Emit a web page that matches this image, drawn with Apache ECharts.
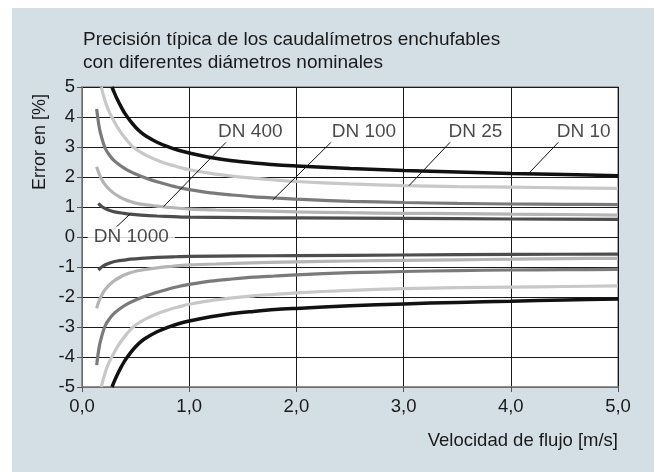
<!DOCTYPE html>
<html><head><meta charset="utf-8">
<script src="https://cdn.jsdelivr.net/npm/echarts@6/dist/echarts.min.js"></script>
<style>html,body{margin:0;padding:0;background:#fff}#c{width:654px;height:472px}</style>
</head><body><div id="c"></div>
<script>
// ---- data ----
var titleLines = ['Precisión típica de los caudalímetros enchufables', 'con diferentes diámetros nominales'];
var xName = 'Velocidad de flujo [m/s]';
var yName = 'Error en [%]';
var xTicks = [0, 1, 2, 3, 4, 5];
var yTicks = [-5, -4, -3, -2, -1, 0, 1, 2, 3, 4, 5];

var vDN10 = [0.28, 0.3, 0.33, 0.36, 0.4, 0.45, 0.5, 0.55, 0.6, 0.7, 0.8, 0.9, 1.0, 1.2, 1.4, 1.6, 1.8, 2.0, 2.5, 3, 3.5, 4, 4.5, 5];
var eDN10Pos = [5.0, 4.82, 4.58, 4.37, 4.12, 3.87, 3.66, 3.49, 3.36, 3.16, 3.01, 2.89, 2.8, 2.65, 2.54, 2.47, 2.41, 2.37, 2.28, 2.22, 2.17, 2.12, 2.08, 2.04];
var eDN10Neg = [-5.0, -4.82, -4.58, -4.37, -4.12, -3.87, -3.66, -3.49, -3.36, -3.16, -3.01, -2.89, -2.8, -2.66, -2.55, -2.48, -2.42, -2.38, -2.29, -2.23, -2.18, -2.14, -2.1, -2.07];

var vDN25 = [0.18, 0.2, 0.23, 0.26, 0.29, 0.33, 0.37, 0.42, 0.48, 0.55, 0.6, 0.7, 0.8, 0.9, 1.0, 1.2, 1.4, 1.6, 1.8, 2.0, 2.5, 3, 3.5, 4, 4.5, 5];
var eDN25Pos = [5.0, 4.72, 4.38, 4.12, 3.92, 3.66, 3.45, 3.22, 2.99, 2.82, 2.72, 2.56, 2.43, 2.33, 2.24, 2.12, 2.03, 1.96, 1.9, 1.85, 1.77, 1.71, 1.68, 1.66, 1.64, 1.62];
var eDN25Neg = [-5.0, -4.72, -4.38, -4.12, -3.92, -3.66, -3.45, -3.22, -2.99, -2.82, -2.72, -2.56, -2.43, -2.33, -2.24, -2.12, -2.03, -1.96, -1.91, -1.86, -1.78, -1.72, -1.69, -1.67, -1.65, -1.63];

var vDN100 = [0.137, 0.15, 0.165, 0.18, 0.2, 0.22, 0.25, 0.29, 0.35, 0.42, 0.5, 0.6, 0.7, 0.8, 0.9, 1.0, 1.2, 1.4, 1.6, 1.8, 2.0, 2.5, 3, 3.5, 4, 4.5, 5];
var eDN100Pos = [4.27, 3.9, 3.58, 3.36, 3.12, 2.93, 2.76, 2.58, 2.4, 2.24, 2.1, 1.96, 1.84, 1.74, 1.65, 1.58, 1.47, 1.4, 1.34, 1.3, 1.26, 1.19, 1.15, 1.12, 1.1, 1.09, 1.08];
var eDN100Neg = [-4.27, -3.9, -3.58, -3.36, -3.12, -2.93, -2.76, -2.58, -2.4, -2.24, -2.1, -1.96, -1.84, -1.74, -1.65, -1.58, -1.47, -1.4, -1.34, -1.3, -1.26, -1.19, -1.15, -1.12, -1.1, -1.09, -1.08];

var vDN400 = [0.137, 0.15, 0.17, 0.19, 0.21, 0.23, 0.26, 0.3, 0.35, 0.4, 0.45, 0.5, 0.6, 0.7, 0.8, 1.0, 1.25, 1.5, 2, 2.5, 3, 3.5, 4, 4.5, 5];
var eDN400Pos = [2.34, 2.2, 2.02, 1.88, 1.77, 1.68, 1.57, 1.45, 1.34, 1.25, 1.18, 1.13, 1.07, 1.03, 0.99, 0.93, 0.9, 0.88, 0.84, 0.81, 0.79, 0.78, 0.76, 0.75, 0.73];
var eDN400Neg = [-2.38, -2.22, -2.04, -1.9, -1.78, -1.69, -1.58, -1.46, -1.35, -1.26, -1.19, -1.14, -1.08, -1.03, -0.99, -0.93, -0.9, -0.87, -0.83, -0.8, -0.78, -0.76, -0.74, -0.72, -0.71];

var vDN1000 = [0.152, 0.17, 0.2, 0.24, 0.28, 0.33, 0.39, 0.45, 0.55, 0.7, 0.85, 1.0, 1.5, 2, 3, 4, 5];
var eDN1000Pos = [1.12, 1.06, 0.98, 0.91, 0.86, 0.82, 0.79, 0.76, 0.73, 0.7, 0.68, 0.66, 0.645, 0.635, 0.62, 0.6, 0.59];
var eDN1000Neg = [-1.1, -1.04, -0.96, -0.89, -0.84, -0.8, -0.77, -0.74, -0.71, -0.68, -0.66, -0.645, -0.63, -0.62, -0.6, -0.58, -0.57];

var seriesNames = ['DN 10', 'DN 25', 'DN 100', 'DN 400', 'DN 1000'];
var seriesColors = ['#111111', '#c8c8c8', '#7a7a7a', '#b5b5b5', '#4d4d4d'];

// label anchors [v, error] and leader lines [[v1,e1],[v2,e2]]
var labelNames = ['DN 400', 'DN 100', 'DN 25', 'DN 10', 'DN 1000'];
var labelPos = [[1.57, 3.5], [2.63, 3.5], [3.67, 3.5], [4.68, 3.5], [0.46, 0]];
var leaders = [
  [[1.35, 3.18], [0.76, 1.01]],
  [[2.33, 3.18], [1.78, 1.24]],
  [[3.44, 3.18], [3.05, 1.71]],
  [[4.45, 3.18], [4.17, 2.13]],
  [[0.29, 0.23], [0.45, 0.77]]
];

// ---- chart ----
var FONT = 'Liberation Sans';
function pairs(v, e) { return v.map(function (x, i) { return [x, e[i]]; }); }
var curveSets = [
  [vDN10, eDN10Pos, eDN10Neg],
  [vDN25, eDN25Pos, eDN25Neg],
  [vDN100, eDN100Pos, eDN100Neg],
  [vDN400, eDN400Pos, eDN400Neg],
  [vDN1000, eDN1000Pos, eDN1000Neg]
];
var series = [];
[3, 1, 2, 4, 0].forEach(function (k) {
  var s = curveSets[k];
  [s[1], s[2]].forEach(function (e, j) {
    series.push({
      name: seriesNames[k] + (j ? ' -' : ' +'), type: 'line', data: pairs(s[0], e),
      showSymbol: false, symbol: 'none', smooth: 0.3,
      lineStyle: { color: seriesColors[k], width: k === 0 ? 3.5 : 3.2 },
      silent: true, z: 3, clip: true
    });
  });
});
leaders.forEach(function (l) {
  series.push({ type: 'line', data: l, showSymbol: false, symbol: 'none',
    lineStyle: { color: '#111', width: 1 }, silent: true, z: 4 });
});
series.push({
  type: 'scatter', symbolSize: 0, z: 5, silent: true,
  data: labelNames.map(function (n, i) { return { name: n, value: labelPos[i] }; }),
  label: { show: true, position: 'inside', formatter: '{b}', color: '#1a1a1a',
    fontFamily: FONT, fontSize: 19, backgroundColor: '#fff', padding: [1, 6, 1, 6] }
});

var chart = echarts.init(document.getElementById('c'), null, { renderer: 'canvas' });
chart.setOption({
  backgroundColor: '#ffffff',
  animation: false,
  graphic: [
    { type: 'rect', z: -100, silent: true, shape: { x: 12, y: 8, width: 642, height: 464 }, style: { fill: '#d4dee5' } },
    { type: 'text', z: 10, left: 83, top: 28, silent: true,
      style: { text: titleLines.join('\n'), font: '19px "' + FONT + '"', fill: '#1a1a1a', lineHeight: 23 } },
    { type: 'text', z: 10, silent: true, x: 40, y: 142, rotation: Math.PI / 2,
      style: { text: yName, font: '18px "' + FONT + '"', fill: '#1a1a1a', align: 'center', verticalAlign: 'middle' } }
  ],
  grid: { left: 82, right: 36, top: 87, bottom: 85, show: true, backgroundColor: '#fff', borderColor: '#8a8a8a', borderWidth: 1.5 },
  xAxis: {
    type: 'value', min: xTicks[0], max: xTicks[xTicks.length - 1], interval: 1,
    name: xName, nameLocation: 'end', nameGap: 0,
    nameTextStyle: { fontFamily: FONT, fontSize: 18.5, color: '#1a1a1a', align: 'right', verticalAlign: 'top', padding: [44, 0, 0, 0] },
    axisLine: { show: true, onZero: false, lineStyle: { color: '#8a8a8a', width: 1.5 } },
    axisTick: { show: true, length: 5, lineStyle: { color: '#555' } },
    axisLabel: { fontFamily: FONT, fontSize: 18.5, color: '#1a1a1a', margin: 10,
      formatter: function (v) { return v.toFixed(1).replace('.', ','); } },
    splitLine: { show: true, lineStyle: { color: '#1a1a1a', width: 1 } }
  },
  yAxis: {
    type: 'value', min: yTicks[0], max: yTicks[yTicks.length - 1], interval: 1,
    axisLine: { show: true, onZero: false, lineStyle: { color: '#8a8a8a', width: 1.5 } },
    axisTick: { show: true, length: 5, lineStyle: { color: '#555' } },
    axisLabel: { fontFamily: FONT, fontSize: 18.5, color: '#1a1a1a', margin: 7 },
    splitLine: { show: true, lineStyle: { color: '#1a1a1a', width: 1 } }
  },
  series: series
});
</script></body></html>
